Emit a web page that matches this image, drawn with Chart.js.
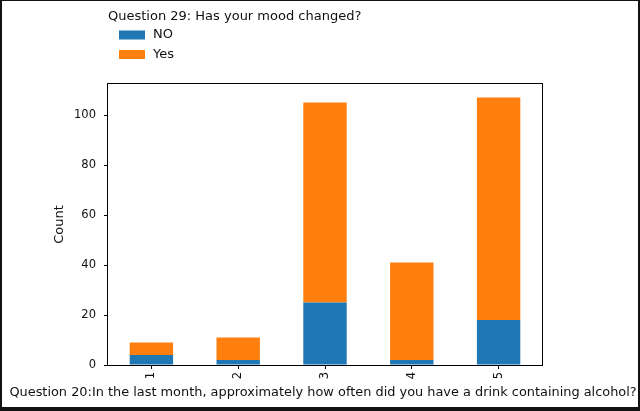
<!DOCTYPE html>
<html>
<head>
<meta charset="utf-8">
<script src="https://cdn.jsdelivr.net/npm/chart.js@4.4.0/dist/chart.umd.min.js"></script>
<style>
  html, body { margin: 0; padding: 0; background: #fff; }
  #wrap { width: 640px; height: 411px; position: relative; }
</style>
</head>
<body>
<div id="wrap"><canvas id="moodChart"></canvas></div>
<script>
// data
const categories = ["1", "2", "3", "4", "5"];
const noCounts = [4, 2, 25, 2, 18];
const yesCounts = [5, 9, 80, 39, 89];
const legendTitle = "Question 29: Has your mood changed?";
const xTitle = "Question 20:In the last month, approximately how often did you have a drink containing alcohol?";
const yTitle = "Count";

const FONT = "13px 'DejaVu Sans', sans-serif";
Chart.defaults.font.family = "'DejaVu Sans', sans-serif";
Chart.defaults.font.size = 11.5;
Chart.defaults.color = "#111";

// matplotlib style box around the axes + outer frame of the picture
const framePlugin = {
  id: "frame",
  afterDraw(chart) {
    const ctx = chart.ctx;
    const a = chart.chartArea;
    ctx.save();
    ctx.strokeStyle = "#000";
    ctx.lineWidth = 1;
    ctx.strokeRect(Math.round(a.left) - 0.5, Math.round(a.top) - 0.5,
      Math.round(a.right - a.left) + 1, Math.round(a.bottom - a.top) + 1);
    ctx.fillStyle = "#111";
    const w = chart.width, h = chart.height;
    ctx.fillRect(0, 0, w, 1);
    ctx.fillRect(0, 0, 2, h);
    ctx.fillRect(w - 2, 0, 2, h);
    ctx.fillRect(0, h - 4, w, 4);
    ctx.restore();
  }
};

// legend stacked vertically above the axes, title on top,
// and the long x axis label (chart.js would squeeze it to the axis width)
const textPlugin = {
  id: "texts",
  afterDraw(chart) {
    const ctx = chart.ctx;
    const a = chart.chartArea;
    const x0 = a.left;
    ctx.save();
    ctx.font = FONT;
    ctx.fillStyle = "#111";
    ctx.textBaseline = "middle";
    ctx.textAlign = "left";
    ctx.fillText(legendTitle, x0, 16.5);
    chart.data.datasets.forEach((ds, i) => {
      const y = 35 + i * 19.5;
      ctx.fillStyle = ds.backgroundColor;
      ctx.fillRect(x0 + 11, y - 4.5, 26, 9);
      ctx.fillStyle = "#111";
      ctx.fillText(ds.label, x0 + 45, y);
    });
    ctx.font = "12.9px 'DejaVu Sans', sans-serif";
    ctx.textAlign = "center";
    ctx.fillText(xTitle, (a.left + a.right) / 2 - 2, a.bottom + 28);
    ctx.restore();
  }
};

new Chart(document.getElementById("moodChart"), {
  type: "bar",
  data: {
    labels: categories,
    datasets: [
      {
        label: "NO",
        data: noCounts,
        backgroundColor: "#1f77b4",
        borderWidth: 0,
        barPercentage: 0.5,
        categoryPercentage: 1.0,
      },
      {
        label: "Yes",
        data: yesCounts,
        backgroundColor: "#ff7f0e",
        borderWidth: 0,
        barPercentage: 0.5,
        categoryPercentage: 1.0,
      },
    ],
  },
  options: {
    responsive: true,
    maintainAspectRatio: false,
    animation: false,
    layout: {
      padding: { top: 84, right: 98, left: 48, bottom: 11 },
    },
    plugins: {
      legend: { display: false },
      tooltip: { enabled: false },
    },
    scales: {
      x: {
        stacked: true,
        border: { display: false },
        grid: {
          offset: false,
          drawOnChartArea: false,
          drawTicks: true,
          tickLength: 4,
          tickColor: "#000",
        },
        ticks: {
          minRotation: 90,
          maxRotation: 90,
          autoSkip: false,
          padding: 3,
        },
        afterFit(scale) {
          scale.height = 35;
        },
      },
      y: {
        stacked: true,
        min: 0,
        max: 112.4,
        border: { display: false },
        grid: {
          drawOnChartArea: false,
          drawTicks: true,
          tickLength: 4,
          tickColor: "#000",
        },
        ticks: {
          stepSize: 20,
          includeBounds: false,
          padding: 8,
        },
        title: {
          display: true,
          text: yTitle,
          font: { size: 13 },
          padding: 4,
        },
        afterFit(scale) {
          scale.width = 60;
        },
      },
    },
  },
  plugins: [framePlugin, textPlugin],
});
</script>
</body>
</html>
